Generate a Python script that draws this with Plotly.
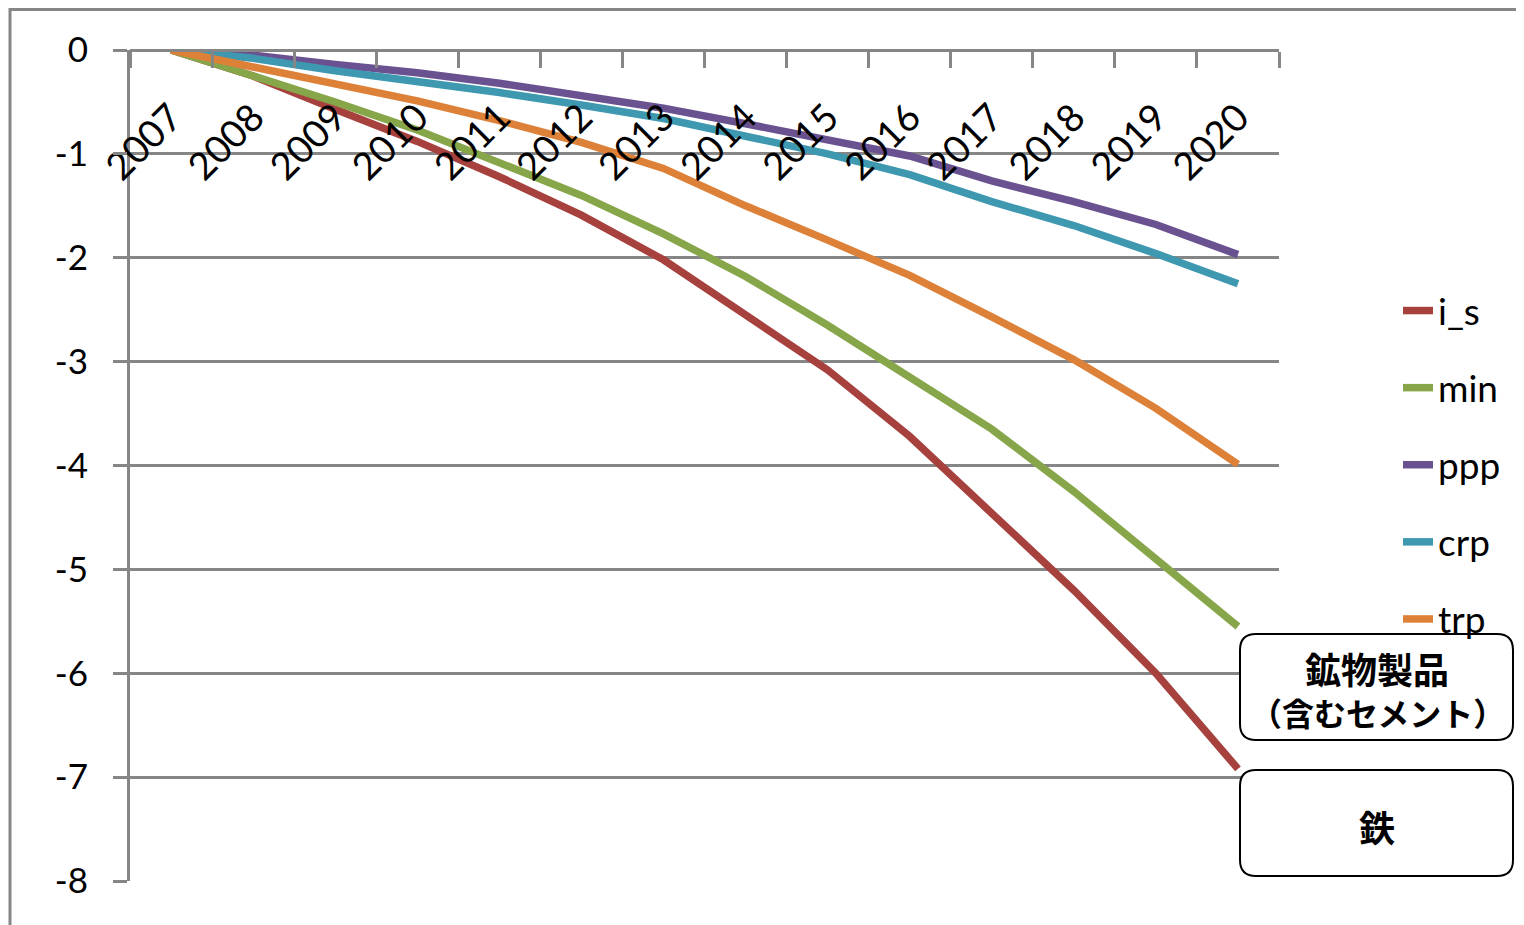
import plotly.graph_objects as go

years = ["2007", "2008", "2009", "2010", "2011", "2012", "2013",
         "2014", "2015", "2016", "2017", "2018", "2019", "2020"]

i_s = [0, -0.25, -0.57, -0.88, -1.22, -1.59, -2.02, -2.54, -3.08, -3.72, -4.45, -5.20, -6.00, -6.92]
min_ = [0, -0.25, -0.50, -0.77, -1.08, -1.40, -1.77, -2.18, -2.65, -3.15, -3.65, -4.25, -4.90, -5.55]
ppp = [0, -0.05, -0.14, -0.22, -0.32, -0.44, -0.56, -0.71, -0.86, -1.02, -1.26, -1.46, -1.68, -1.97]
crp = [0, -0.08, -0.20, -0.30, -0.41, -0.53, -0.66, -0.83, -1.00, -1.20, -1.46, -1.69, -1.96, -2.25]
trp = [0, -0.16, -0.33, -0.49, -0.68, -0.89, -1.14, -1.50, -1.83, -2.17, -2.57, -2.98, -3.45, -3.99]

series_names = ["i_s", "min", "ppp", "crp", "trp"]
series_values = [i_s, min_, ppp, crp, trp]
series_colors = ["#A7413E", "#87A64A", "#6A5290", "#3E98B0", "#DE8138"]

y_tickvals = [0, -1, -2, -3, -4, -5, -6, -7, -8]
y_ticktext = ["0", "-1", "-2", "-3", "-4", "-5", "-6", "-7", "-8"]

box1_lines = ["<b>鉱物製品</b>", "<b>（含むセメント）</b>"]
box2_label = "<b>鉄</b>"

# page body has an 8px margin: work in screenshot coordinates and shift
OFF = 8
W, H = 1524 - OFF, 925 - OFF
L, R, T, B = 130, 1279, 50, 881  # plot area in screenshot coords
FONT = "Lato, 'Open Sans', sans-serif"
GRAY = "#868686"


def px(x):
    return (x - L) / (R - L)


def py(y):
    return (B - y) / (B - T)


def rounded_rect(x0, y0, x1, y1, r):
    pts = [
        f"M {px(x0 + r)},{py(y0)}",
        f"L {px(x1 - r)},{py(y0)}",
        f"Q {px(x1)},{py(y0)} {px(x1)},{py(y0 + r)}",
        f"L {px(x1)},{py(y1 - r)}",
        f"Q {px(x1)},{py(y1)} {px(x1 - r)},{py(y1)}",
        f"L {px(x0 + r)},{py(y1)}",
        f"Q {px(x0)},{py(y1)} {px(x0)},{py(y1 - r)}",
        f"L {px(x0)},{py(y0 + r)}",
        f"Q {px(x0)},{py(y0)} {px(x0 + r)},{py(y0)}",
        "Z",
    ]
    return " ".join(pts)


fig = go.Figure()
for name, vals, col in zip(series_names, series_values, series_colors):
    fig.add_trace(go.Scatter(
        x=years, y=vals, name=name, mode="lines",
        line=dict(color=col, width=7.5),
        legendgroup=name,
    ))

shapes = [
    dict(type="rect", xref="paper", yref="paper",
         x0=px(10), x1=px(1560), y0=py(960), y1=py(9.5),
         line=dict(color=GRAY, width=3), fillcolor="rgba(0,0,0,0)", layer="below"),
    dict(type="path", xref="paper", yref="paper",
         path=rounded_rect(1240, 634, 1513, 740, 16),
         line=dict(color="black", width=2), fillcolor="white", layer="above"),
    dict(type="path", xref="paper", yref="paper",
         path=rounded_rect(1240, 770, 1513, 876, 16),
         line=dict(color="black", width=2), fillcolor="white", layer="above"),
]

cjk = "Noto Sans CJK JP"
annotations = [
    dict(xref="paper", yref="paper", x=px(1377), y=py(668), text=box1_lines[0],
         showarrow=False, font=dict(family=cjk, size=36, color="black"),
         xanchor="center", yanchor="middle"),
    dict(xref="paper", yref="paper", x=px(1377), y=py(712), text=box1_lines[1],
         showarrow=False, font=dict(family=cjk, size=32, color="black"),
         xanchor="center", yanchor="middle"),
    dict(xref="paper", yref="paper", x=px(1377), y=py(826), text=box2_label,
         showarrow=False, font=dict(family=cjk, size=36, color="black"),
         xanchor="center", yanchor="middle"),
]

fig.update_layout(
    width=W, height=H,
    margin=dict(l=L - OFF, r=W - (R - OFF), t=T - OFF, b=H - (B - OFF), pad=0),
    paper_bgcolor="white", plot_bgcolor="white",
    font=dict(family=FONT, size=36, color="black"),
    showlegend=True,
    legend=dict(
        x=px(1398), y=py(280), xanchor="left", yanchor="top",
        traceorder="grouped", tracegroupgap=26,
        font=dict(family=FONT, size=37, color="black"),
        bgcolor="rgba(0,0,0,0)", borderwidth=0,
    ),
    shapes=shapes,
    annotations=annotations,
    xaxis=dict(
        type="category", categoryorder="array", categoryarray=years,
        side="bottom", anchor="free", position=1.0,
        showline=True, linecolor=GRAY, linewidth=3,
        ticks="outside", ticklen=16, tickwidth=3, tickcolor=GRAY,
        tickson="boundaries",
        tickangle=-45, ticklabelstandoff=28,
        tickfont=dict(family=FONT, size=38, color="black"),
        showgrid=False, zeroline=False,
        range=[-0.5, len(years) - 0.5],
    ),
    yaxis=dict(
        range=[-8, 0], tickvals=y_tickvals, ticktext=y_ticktext,
        showline=True, linecolor=GRAY, linewidth=3,
        ticks="outside", ticklen=14, tickwidth=3, tickcolor=GRAY,
        showgrid=True, gridcolor=GRAY, gridwidth=3,
        zeroline=False, ticklabelstandoff=18,
        tickfont=dict(family=FONT, size=35, color="black"),
    ),
)

fig.write_html("out.html")
